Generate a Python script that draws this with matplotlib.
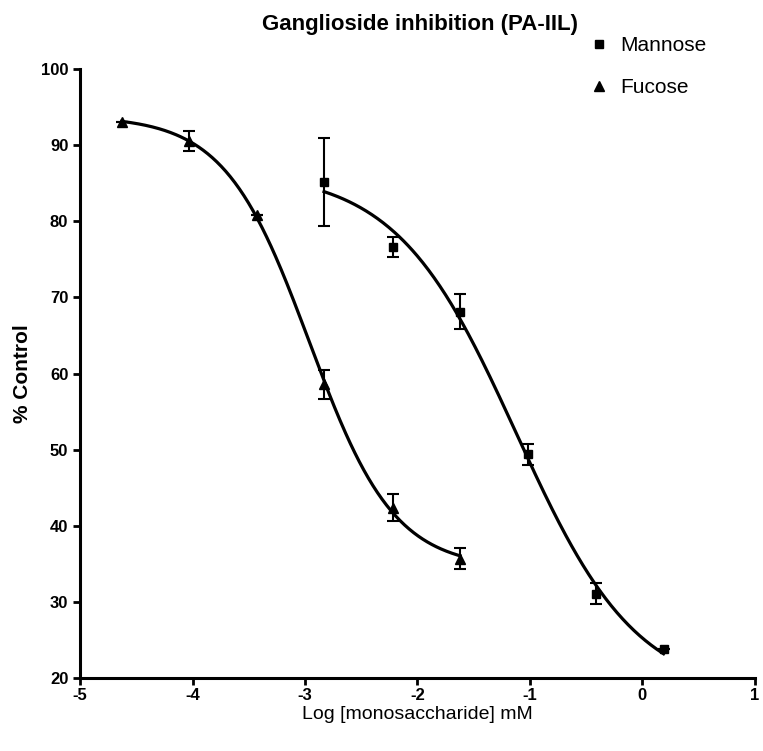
import numpy as np
import matplotlib as mpl
import matplotlib.pyplot as plt

# data (log mM, % control, error)
mannose_x = [-2.83, -2.22, -1.62, -1.02, -0.41, 0.19]
mannose_y = [85.2, 76.6, 68.1, 49.4, 31.1, 23.8]
mannose_err = [5.8, 1.3, 2.3, 1.4, 1.4, 0.0]

fucose_x = [-4.63, -4.03, -3.43, -2.83, -2.22, -1.62]
fucose_y = [93.0, 90.6, 80.8, 58.6, 42.4, 35.7]
fucose_err = [0.0, 1.3, 0.0, 1.9, 1.8, 1.4]

x_ticks = [-5, -4, -3, -2, -1, 0, 1]
y_ticks = [20, 30, 40, 50, 60, 70, 80, 90, 100]

mpl.rcParams["font.family"] = ["Liberation Sans Narrow", "Liberation Sans", "DejaVu Sans"]
mpl.rcParams["axes.unicode_minus"] = False


def fit_4pl(x, y):
    # grid over logIC50 / hill, least squares for bottom & top
    x = np.asarray(x)
    y = np.asarray(y)
    best = None
    for ec in np.arange(-5.0, 1.0, 0.01):
        for h in np.arange(-3.0, -0.2, 0.01):
            f = 1.0 / (1.0 + 10 ** ((ec - x) * h))
            A = np.column_stack([1 - f, f])
            coef, _, _, _ = np.linalg.lstsq(A, y, rcond=None)
            r = np.sum((A @ coef - y) ** 2)
            if best is None or r < best[0]:
                best = (r, coef[0], coef[1], ec, h)
    _, bottom, top, ec, h = best
    return lambda xx: bottom + (top - bottom) / (1 + 10 ** ((ec - xx) * h))


def plot_main():
    fig = plt.figure(figsize=(7.63, 7.51), dpi=100)
    ax = fig.add_axes([0.105, 0.097, 0.884, 0.811])

    for xs, ys, es, mk, ms, lab in [
            (mannose_x, mannose_y, mannose_err, "s", 6, "Mannose"),
            (fucose_x, fucose_y, fucose_err, "^", 7, "Fucose")]:
        curve = fit_4pl(xs, ys)
        xx = np.linspace(min(xs), max(xs), 300)
        ax.plot(xx, curve(xx), "-", color="black", lw=2.3)
        ax.errorbar(xs, ys, yerr=es, fmt=mk, color="black", markersize=ms,
                    capsize=4, elinewidth=1.5, capthick=1.5, label=lab)

    ax.set_xlim(-5, 1)
    ax.set_ylim(20, 100)
    ax.set_xticks(x_ticks)
    ax.set_yticks(y_ticks)
    for s in ["top", "right"]:
        ax.spines[s].set_visible(False)
    for s in ["left", "bottom"]:
        ax.spines[s].set_linewidth(2.2)
    ax.tick_params(width=2, length=5, labelsize=12)
    ax.tick_params(axis="x", pad=2)
    for lb in ax.get_xticklabels() + ax.get_yticklabels():
        lb.set_fontweight("bold")

    ax.set_xlabel("Log [monosaccharide] mM", fontsize=14, labelpad=2)
    ax.set_ylabel("% Control", fontsize=15, fontweight="bold", labelpad=6)
    fig.text(0.55, 0.968, "Ganglioside inhibition (PA-IIL)", ha="center",
             va="center", fontsize=16, fontweight="bold")

    handles, labels = ax.get_legend_handles_labels()
    handles = [h[0] for h in handles]
    ax.legend(handles, labels, loc="upper left", bbox_to_anchor=(0.726, 1.085),
              frameon=False, fontsize=15, handletextpad=0.5, labelspacing=1.1,
              handlelength=1.0)

    fig.savefig("out.png", dpi=100)


if __name__ == '__main__':
    plot_main()
